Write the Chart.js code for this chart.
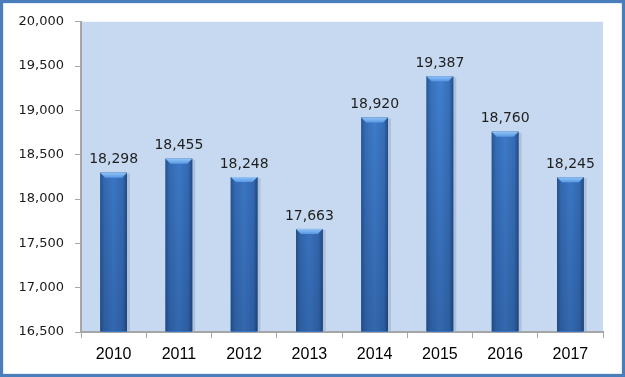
<!DOCTYPE html>
<html>
<head>
<meta charset="utf-8">
<script src="https://cdn.jsdelivr.net/npm/chart.js@4/dist/chart.umd.min.js"></script>
<style>
  html, body { margin: 0; padding: 0; background: #ffffff; }
  #frame {
    width: 625px; height: 377px; box-sizing: border-box;
    border: 3px solid #4a7ebb; background: #ffffff;
    box-shadow: inset 0 0 2px #9cb9dd;
  }
  #chartBox { width: 619px; height: 371px; position: relative; }
</style>
</head>
<body>
<div id="frame"><div id="chartBox"><canvas id="yearChart"></canvas></div></div>
<script>
  const years = ["2010", "2011", "2012", "2013", "2014", "2015", "2016", "2017"];
  const values = [18298, 18455, 18248, 17663, 18920, 19387, 18760, 18245];
  const yMin = 16500;
  const yMax = 20000;
  const yStep = 500;

  const fmt = (v) => v.toLocaleString("en-US");

  // light blue plot area behind the bars
  const plotBackground = {
    id: "plotBackground",
    beforeDraw(chart) {
      const { ctx, chartArea } = chart;
      ctx.save();
      ctx.fillStyle = "#c6d9f0";
      ctx.fillRect(chartArea.left, chartArea.top, chartArea.right - chartArea.left, chartArea.bottom - chartArea.top);
      ctx.restore();
    },
  };

  // repaint each bar with a cylinder-like shading and a bevelled top, then the value label
  const barShading = {
    id: "barShading",
    afterDatasetsDraw(chart) {
      const { ctx, chartArea } = chart;
      const meta = chart.getDatasetMeta(0);
      meta.data.forEach((bar, i) => {
        const { x, y, width } = bar.getProps(["x", "y", "width"], true);
        const base = chartArea.bottom - 1;
        const left = x - width / 2;
        const right = x + width / 2;
        ctx.save();
        // soft shadow
        ctx.fillStyle = "rgba(40, 60, 90, 0.15)";
        ctx.fillRect(left + 1, y + 1, width + 2, base - y - 1);
        const grad = ctx.createLinearGradient(left, 0, right, 0);
        grad.addColorStop(0, "#2a5a98");
        grad.addColorStop(0.15, "#3a74c0");
        grad.addColorStop(0.5, "#4384d6");
        grad.addColorStop(0.85, "#3a74c0");
        grad.addColorStop(1, "#24508a");
        ctx.fillStyle = grad;
        ctx.fillRect(left, y, width, base - y);
        // darker towards the axis
        const shade = ctx.createLinearGradient(0, chartArea.top, 0, base);
        shade.addColorStop(0, "rgba(10, 30, 70, 0)");
        shade.addColorStop(1, "rgba(10, 30, 70, 0.28)");
        ctx.fillStyle = shade;
        ctx.fillRect(left, y, width, base - y);
        // bevel on top
        const bev = 5;
        const topGrad = ctx.createLinearGradient(0, y, 0, y + bev);
        topGrad.addColorStop(0, "#93c4f6");
        topGrad.addColorStop(1, "#5798e4");
        ctx.fillStyle = topGrad;
        ctx.beginPath();
        ctx.moveTo(left, y);
        ctx.lineTo(right, y);
        ctx.lineTo(right - bev, y + bev);
        ctx.lineTo(left + bev, y + bev);
        ctx.closePath();
        ctx.fill();
        // value label
        ctx.fillStyle = "#1f1f1f";
        ctx.font = "14px 'DejaVu Sans'";
        ctx.textAlign = "center";
        ctx.textBaseline = "bottom";
        ctx.fillText(fmt(values[i]), x, y - 6);
        ctx.restore();
      });
    },
  };

  new Chart(document.getElementById("yearChart"), {
    type: "bar",
    data: {
      labels: years,
      datasets: [
        {
          data: values,
          backgroundColor: "#3a74c0",
          barPercentage: 0.41,
          categoryPercentage: 1,
        },
      ],
    },
    options: {
      responsive: true,
      maintainAspectRatio: false,
      animation: false,
      layout: { padding: { top: 17, right: 19, bottom: 0, left: 0 } },
      plugins: {
        legend: { display: false },
        tooltip: { enabled: false },
      },
      scales: {
        x: {
          grid: {
            offset: true,
            drawOnChartArea: false,
            tickLength: 6,
            color: "#a6a6a6",
          },
          border: { color: "#a6a6a6", width: 2 },
          ticks: {
            color: "#000000",
            font: { family: "'Liberation Sans'", size: 16 },
            padding: 7,
          },
          afterFit(scale) {
            scale.height = 42;
          },
        },
        y: {
          min: yMin,
          max: yMax,
          grid: {
            drawOnChartArea: false,
            tickLength: 6,
            color: "#a6a6a6",
          },
          border: { color: "#a6a6a6", width: 2 },
          ticks: {
            stepSize: yStep,
            color: "#1a1a1a",
            font: { family: "'DejaVu Sans'", size: 13 },
            padding: 11,
            callback: (v) => fmt(v),
          },
          afterFit(scale) {
            scale.width = 78;
          },
        },
      },
    },
    plugins: [plotBackground, barShading],
  });
</script>
</body>
</html>
